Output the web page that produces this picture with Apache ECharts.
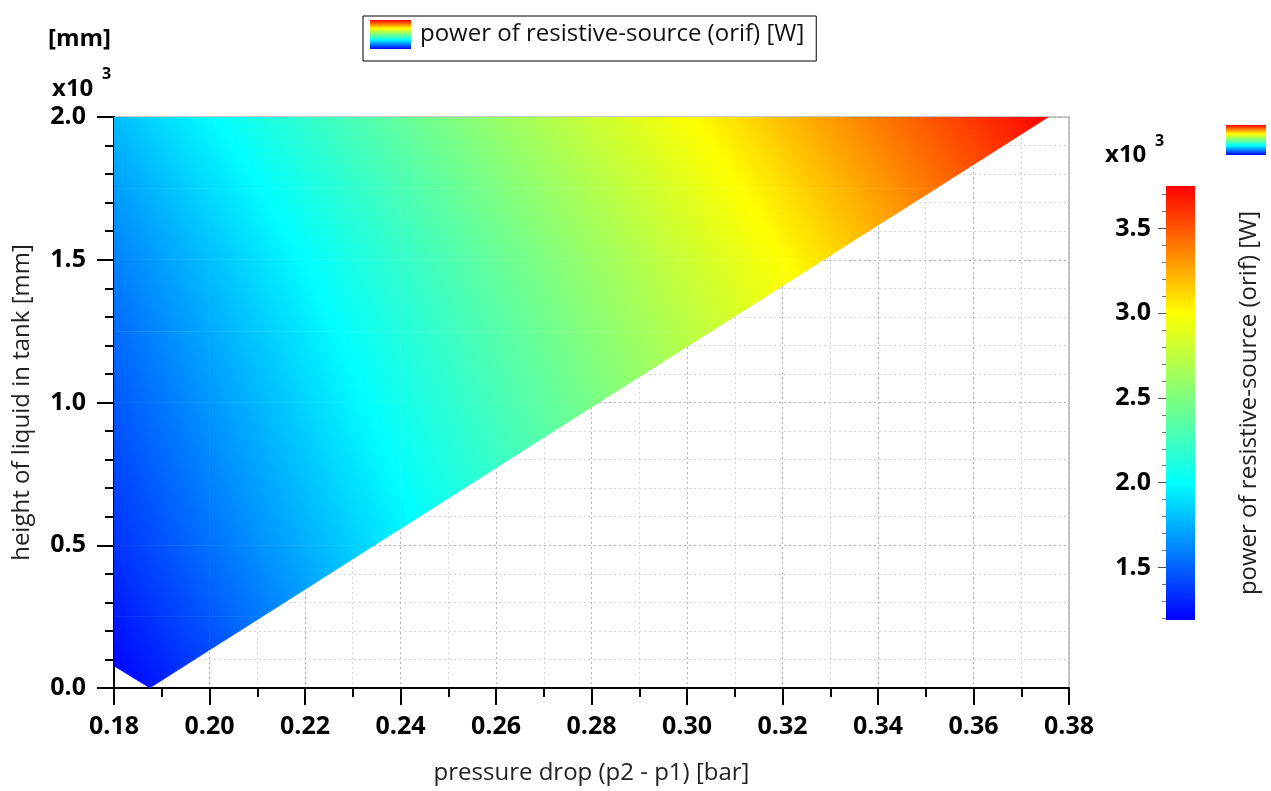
<!DOCTYPE html>
<html><head><meta charset="utf-8">
<script src="https://cdn.jsdelivr.net/npm/echarts@6/dist/echarts.min.js"></script>
<style>html,body{margin:0;padding:0;background:#fff}#c{width:1271px;height:791px}</style>
</head><body><div id="c"></div>
<script>
// ---------------- data ----------------
// pressure drop nodes [bar]
const xNodes = [0.18, 0.20, 0.22, 0.24, 0.26, 0.28, 0.30, 0.32, 0.34, 0.36, 0.38];
// liquid height nodes [mm]
const hNodes = [0, 250, 500, 750, 1000, 1250, 1500, 1750, 2000];
// power of resistive-source [W] at each (h, x) node, one row per hNodes entry
const powerRows = [
  [1180, 1380, 1580, 1780, 1980, 2180, 2380, 2580, 2780, 2980, 3180],
  [1270, 1470, 1670, 1870, 2070, 2270, 2470, 2670, 2870, 3070, 3270],
  [1350, 1550, 1750, 1950, 2150, 2350, 2550, 2750, 2950, 3150, 3350],
  [1410, 1610, 1810, 2010, 2210, 2410, 2610, 2810, 3010, 3210, 3410],
  [1470, 1670, 1870, 2070, 2270, 2470, 2670, 2870, 3070, 3270, 3470],
  [1530, 1730, 1930, 2130, 2330, 2530, 2730, 2930, 3130, 3330, 3530],
  [1600, 1800, 2000, 2200, 2400, 2600, 2800, 3000, 3200, 3400, 3600],
  [1690, 1890, 2090, 2290, 2490, 2690, 2890, 3090, 3290, 3490, 3690],
  [1790, 1990, 2190, 2390, 2590, 2790, 2990, 3190, 3390, 3590, 3790]
];
// boundary of the simulated domain (pressure drop [bar], height [mm])
const regionX = [0.18, 0.1875, 0.3757, 0.18];
const regionH = [77, 0, 2000, 2000];
// colour bar
const colorRange = [1190, 3750];
const colorbarMajor = [1500, 2000, 2500, 3000, 3500];
const colorbarMinor = [1200, 1300, 1400, 1600, 1700, 1800, 1900, 2100, 2200, 2300, 2400, 2600, 2700, 2800, 2900, 3100, 3200, 3300, 3400, 3600, 3700];
const seriesName = 'power of resistive-source (orif) [W]';

// ---------------- colour map ----------------
const cmapStops = [[1190, [0, 0, 255]], [2000, [0, 255, 255]], [3000, [255, 255, 0]], [3750, [255, 0, 0]]];
function rgb(c) { return 'rgb(' + c.map(Math.round).join(',') + ')'; }
function cmap(v) {
  const s = cmapStops;
  if (v <= s[0][0]) return rgb(s[0][1]);
  if (v >= s[s.length - 1][0]) return rgb(s[s.length - 1][1]);
  for (let k = 0; k < s.length - 1; k++) {
    if (v <= s[k + 1][0]) {
      const t = (v - s[k][0]) / (s[k + 1][0] - s[k][0]);
      return rgb(s[k][1].map((c, i) => c + t * (s[k + 1][1][i] - c)));
    }
  }
}
function gradStops(vlo, vhi) {
  const vals = [vlo];
  cmapStops.forEach(s => { if (s[0] > vlo && s[0] < vhi) vals.push(s[0]); });
  vals.push(vhi);
  return vals.map(v => ({ offset: (v - vlo) / (vhi - vlo), color: cmap(v) }));
}

// ---------------- geometry helpers ----------------
function clipPoly(subject, clip) {
  let area = 0;
  for (let k = 0; k < clip.length; k++) {
    const a = clip[k], b = clip[(k + 1) % clip.length];
    area += a[0] * b[1] - b[0] * a[1];
  }
  const sgn = area > 0 ? 1 : -1;
  let out = subject;
  for (let e = 0; e < clip.length; e++) {
    if (!out.length) break;
    const A = clip[e], B = clip[(e + 1) % clip.length];
    const side = p => sgn * ((B[0] - A[0]) * (p[1] - A[1]) - (B[1] - A[1]) * (p[0] - A[0]));
    const inp = out; out = [];
    for (let i = 0; i < inp.length; i++) {
      const P = inp[i], Q = inp[(i + 1) % inp.length];
      const dp = side(P), dq = side(Q);
      const pin = dp >= -1e-7, qin = dq >= -1e-7;
      const inter = () => { const t = dp / (dp - dq); return [P[0] + t * (Q[0] - P[0]), P[1] + t * (Q[1] - P[1])]; };
      if (pin) { out.push(P); if (!qin) out.push(inter()); }
      else if (qin) out.push(inter());
    }
  }
  return out;
}
// linear gradient matching a plane through three (point, value) pairs; vlo/vhi = value span to cover
function planeFill(pts, vals, vlo, vhi) {
  const [P0, P1, P2] = pts, [v0, v1, v2] = vals;
  const e1x = P1[0] - P0[0], e1y = P1[1] - P0[1], e2x = P2[0] - P0[0], e2y = P2[1] - P0[1];
  const d1 = v1 - v0, d2 = v2 - v0;
  const det = e1x * e2y - e1y * e2x;
  if (Math.abs(det) < 1e-9 || vhi - vlo < 1e-9) return cmap((vlo + vhi) / 2);
  const gx = (d1 * e2y - d2 * e1y) / det, gy = (e1x * d2 - e2x * d1) / det;
  const g2 = gx * gx + gy * gy;
  if (g2 < 1e-12) return cmap(v0);
  const a = (vlo - v0) / g2, b = (vhi - v0) / g2;
  return new echarts.graphic.LinearGradient(P0[0] + gx * a, P0[1] + gy * a, P0[0] + gx * b, P0[1] + gy * b, gradStops(vlo, vhi), true);
}

// ---------------- build cells ----------------
const cells = [];
for (let j = 0; j < hNodes.length - 1; j++) {
  for (let i = 0; i < xNodes.length - 1; i++) {
    cells.push([xNodes[i], xNodes[i + 1], hNodes[j], hNodes[j + 1],
      powerRows[j][i], powerRows[j][i + 1], powerRows[j + 1][i], powerRows[j + 1][i + 1]]);
  }
}

const FONT = '"Open Sans", "Noto Sans", sans-serif';
const legendGrad = new echarts.graphic.LinearGradient(0, 0, 0, 1,
  cmapStops.slice().reverse().map(s => ({ offset: (colorRange[1] - s[0]) / (colorRange[1] - colorRange[0]), color: rgb(s[1]) })));

function renderField(params, api) {
  const x0 = api.value(0), x1 = api.value(1), h0 = api.value(2), h1 = api.value(3);
  const v00 = api.value(4), v10 = api.value(5), v01 = api.value(6), v11 = api.value(7);
  const p00 = api.coord([x0, h0]), p10 = api.coord([x1, h0]), p01 = api.coord([x0, h1]), p11 = api.coord([x1, h1]);
  const region = regionX.map((x, k) => api.coord([x, regionH[k]]));
  const poly = clipPoly([p00, p10, p11, p01], region);
  if (poly.length < 3) return null;
  const vlo = Math.min(v00, v10, v01, v11), vhi = Math.max(v00, v10, v01, v11);
  const fill = planeFill([p00, p10, p01], [v00, v10, v01], vlo, vhi);
  return { type: 'polygon', shape: { points: poly }, style: { fill: fill, stroke: fill, lineWidth: 0.5 } };
}

function renderBar(params, api) {
  const top = api.coord([0, api.value(1)]), bot = api.coord([1, api.value(0)]);
  const fill = new echarts.graphic.LinearGradient(0, bot[1], 0, top[1], gradStops(api.value(0), api.value(1)), true);
  return { type: 'rect', shape: { x: top[0], y: top[1], width: bot[0] - top[0], height: bot[1] - top[1] }, style: { fill: fill } };
}

const chart = echarts.init(document.getElementById('c'), null, { renderer: 'canvas' });
const boldLabel = { fontSize: 25, fontWeight: 'bold', color: '#000', fontFamily: FONT };
chart.setOption({
  animation: false,
  backgroundColor: '#fff',
  textStyle: { fontFamily: FONT },
  grid: [
    { left: 114, top: 117, width: 955, height: 571, show: true, borderColor: '#c8c8c8', borderWidth: 2, backgroundColor: 'transparent', containLabel: false, outerBoundsMode: 'none' },
    { left: 1166, top: 186, width: 29, height: 434, containLabel: false, outerBoundsMode: 'none' }
  ],
  legend: {
    left: 363, top: 16, padding: [4, 12, 12, 7], itemWidth: 41, itemHeight: 29,
    borderColor: '#000', borderWidth: 1, selectedMode: false,
    textStyle: { fontSize: 24, color: '#111', fontFamily: FONT, padding: [5, 0, 0, 4] },
    data: [{ name: seriesName, icon: 'rect', itemStyle: { color: legendGrad } }]
  },
  xAxis: [
    {
      gridIndex: 0, type: 'value', min: 0.18, max: 0.38, interval: 0.02,
      axisLine: { show: true, onZero: false, lineStyle: { color: '#000', width: 2 } },
      axisTick: { show: true, length: 17, lineStyle: { color: '#000', width: 2 } },
      minorTick: { show: true, splitNumber: 2, length: 9, lineStyle: { color: '#000', width: 2 } },
      splitLine: { show: true, lineStyle: { color: '#b0b0b0', type: [2, 3], width: 1 } },
      minorSplitLine: { show: true, lineStyle: { color: '#d4d4d4', type: [2, 3], width: 1 } },
      axisLabel: Object.assign({ margin: 26, formatter: v => v.toFixed(2) }, boldLabel),
      name: 'pressure drop (p2 - p1) [bar]', nameLocation: 'middle', nameGap: 73,
      nameTextStyle: { fontSize: 24, color: '#222', fontFamily: FONT }
    },
    { gridIndex: 1, type: 'value', min: 0, max: 1, show: false }
  ],
  yAxis: [
    {
      gridIndex: 0, type: 'value', min: 0, max: 2000, interval: 500,
      axisLine: { show: true, onZero: false, lineStyle: { color: '#000', width: 2 } },
      axisTick: { show: true, length: 17, lineStyle: { color: '#000', width: 2 } },
      minorTick: { show: true, splitNumber: 5, length: 9, lineStyle: { color: '#000', width: 2 } },
      splitLine: { show: true, lineStyle: { color: '#b0b0b0', type: [2, 3], width: 1 } },
      minorSplitLine: { show: true, lineStyle: { color: '#d4d4d4', type: [2, 3], width: 1 } },
      axisLabel: Object.assign({ margin: 28, formatter: v => (v / 1000).toFixed(1) }, boldLabel),
      name: 'height of liquid in tank [mm]', nameLocation: 'middle', nameGap: 80,
      nameTextStyle: { fontSize: 24, color: '#222', fontFamily: FONT }
    },
    {
      gridIndex: 1, type: 'value', min: colorRange[0], max: colorRange[1], position: 'left',
      axisLine: { show: false }, splitLine: { show: false },
      axisTick: { show: true, customValues: colorbarMajor, length: 8, lineStyle: { color: '#555', width: 1 } },
      axisLabel: Object.assign({ customValues: colorbarMajor, margin: 15, formatter: v => (v / 1000).toFixed(1) }, boldLabel)
    },
    {
      gridIndex: 1, type: 'value', min: colorRange[0], max: colorRange[1], position: 'left',
      axisLine: { show: false }, splitLine: { show: false }, axisLabel: { show: false },
      axisTick: { show: true, customValues: colorbarMinor, length: 4, lineStyle: { color: '#777', width: 1 } }
    },
    {
      gridIndex: 1, type: 'value', min: colorRange[0], max: colorRange[1], position: 'right',
      axisLine: { show: false }, splitLine: { show: false }, axisLabel: { show: false }, axisTick: { show: false },
      name: seriesName, nameLocation: 'middle', nameGap: 42,
      nameTextStyle: { fontSize: 24, color: '#222', fontFamily: FONT }
    }
  ],
  series: [
    {
      name: seriesName, type: 'custom', xAxisIndex: 0, yAxisIndex: 0, clip: true,
      itemStyle: { color: legendGrad },
      renderItem: renderField, data: cells, z: 3
    },
    {
      name: 'colorbar', type: 'custom', xAxisIndex: 1, yAxisIndex: 1,
      renderItem: renderBar, data: [[colorRange[0], colorRange[1]]]
    }
  ],
  graphic: [
    { type: 'text', left: 48, top: 27, style: { text: '[mm]', fontSize: 24, fontWeight: 'bold', fill: '#000', fontFamily: FONT } },
    { type: 'text', left: 52, top: 77, style: { text: 'x10', fontSize: 24, fontWeight: 'bold', fill: '#000', fontFamily: FONT } },
    { type: 'text', left: 102, top: 66, style: { text: '3', fontSize: 16, fontWeight: 'bold', fill: '#000', fontFamily: FONT } },
    { type: 'text', left: 1105, top: 143, style: { text: 'x10', fontSize: 24, fontWeight: 'bold', fill: '#000', fontFamily: FONT } },
    { type: 'text', left: 1155, top: 133, style: { text: '3', fontSize: 16, fontWeight: 'bold', fill: '#000', fontFamily: FONT } },
    { type: 'rect', left: 1226, top: 125, shape: { width: 40, height: 30 }, style: { fill: legendGrad } }
  ]
});
</script>
</body></html>
